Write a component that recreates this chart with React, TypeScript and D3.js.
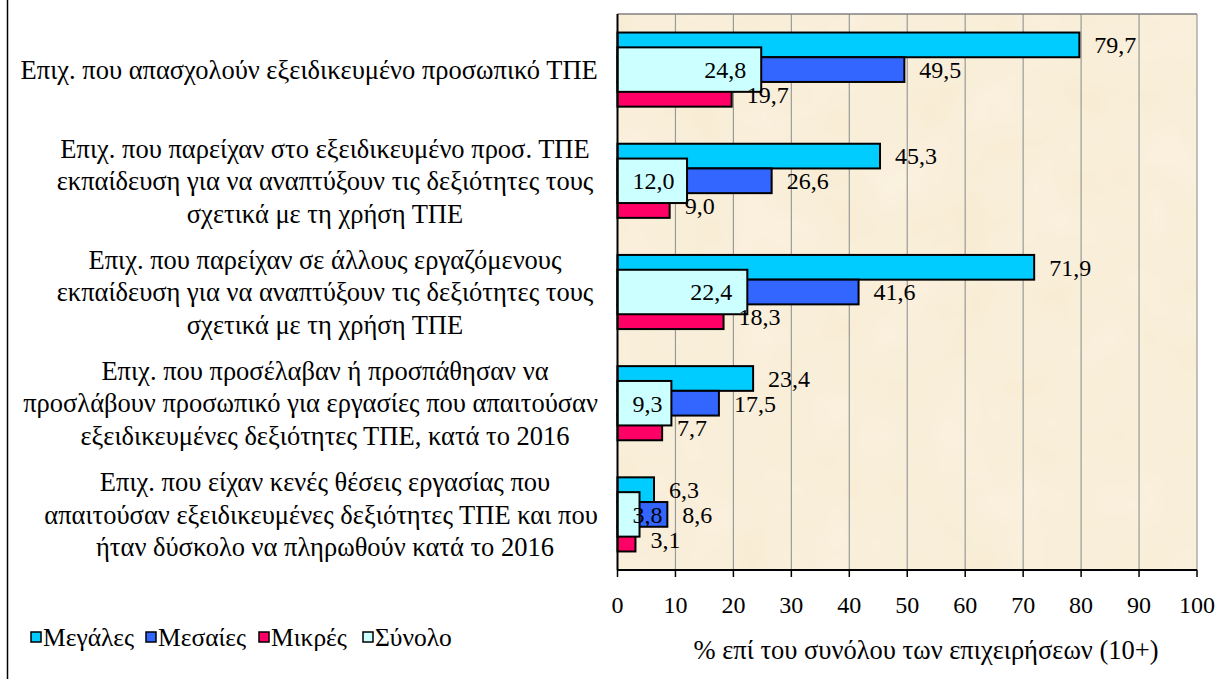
import React from "react";
import * as d3 from "d3";

const categories = ["c1", "c2", "c3", "c4", "c5"];
const categoryLines: string[][] = [
  ["Επιχ. που απασχολούν εξειδικευμένο προσωπικό ΤΠΕ"],
  ["Επιχ. που παρείχαν στο εξειδικευμένο προσ. ΤΠΕ", "εκπαίδευση για να αναπτύξουν τις δεξιότητες τους", "σχετικά με τη χρήση ΤΠΕ"],
  ["Επιχ. που παρείχαν σε άλλους εργαζόμενους", "εκπαίδευση για να αναπτύξουν τις δεξιότητες τους", "σχετικά με τη χρήση ΤΠΕ"],
  ["Επιχ. που προσέλαβαν ή προσπάθησαν να", "προσλάβουν προσωπικό για εργασίες που απαιτούσαν", "εξειδικευμένες δεξιότητες ΤΠΕ, κατά το 2016"],
  ["Επιχ. που είχαν κενές θέσεις εργασίας που", "απαιτούσαν εξειδικευμένες δεξιότητες ΤΠΕ και που", "ήταν δύσκολο να πληρωθούν κατά το 2016"],
];
const seriesNames = ["Μεγάλες", "Μεσαίες", "Μικρές", "Σύνολο"];
const megales = [79.7, 45.3, 71.9, 23.4, 6.3];
const mesaies = [49.5, 26.6, 41.6, 17.5, 8.6];
const mikres = [19.7, 9.0, 18.3, 7.7, 3.1];
const synolo = [24.8, 12.0, 22.4, 9.3, 3.8];
const xTicks = [0, 10, 20, 30, 40, 50, 60, 70, 80, 90, 100];
const xTitle = "% επί του συνόλου των επιχειρήσεων (10+)";

const colors: Record<string, string> = {
  "Μεγάλες": "#00CCFF",
  "Μεσαίες": "#3366FF",
  "Μικρές": "#FF0066",
  "Σύνολο": "#CCFFFF",
};

const TS = { fontFamily: '"Liberation Serif"' };

let ctx: CanvasRenderingContext2D | null = null;
function measure(t: string, size: number) {
  if (!ctx) {
    const c = document.createElement("canvas");
    ctx = c.getContext("2d");
  }
  if (!ctx) return t.length * size * 0.45;
  ctx.font = `${size}px "Liberation Serif"`;
  return ctx.measureText(t).width;
}

const fmt = (v: number) => v.toFixed(1).replace(".", ",");

export default function App() {
  const left = 617.5, right = 1197, top = 14, bottom = 570;
  const x = d3.scaleLinear().domain([0, 100]).range([left, right]);
  const y = d3.scaleBand().domain(categories).range([top, bottom]).paddingInner(1 / 3).paddingOuter(1 / 6);
  const primary = seriesNames.slice(0, 3);
  const sub = d3.scaleBand().domain(primary).range([0, y.bandwidth()]);
  const y2 = d3.scaleBand().domain(categories).range([top, bottom]).paddingInner(0.6).paddingOuter(0.3);
  const primData: Record<string, number[]> = { "Μεγάλες": megales, "Μεσαίες": mesaies, "Μικρές": mikres };

  const labelSize = 24;
  const catSize = 26.5;
  const lineH = 32.5;

  const legendItems = [
    { name: seriesNames[0], x: 31 },
    { name: seriesNames[1], x: 146 },
    { name: seriesNames[2], x: 259 },
    { name: seriesNames[3], x: 363 },
  ];

  return (
    <svg width={1220} height={679} style={{ position: "absolute", left: 0, top: 0, background: "#fff" }}>
      <defs>
        <filter id="paper" x="0" y="0" width="100%" height="100%">
          <feTurbulence type="fractalNoise" baseFrequency="0.015" numOctaves="3" seed="4" />
          <feColorMatrix type="matrix" values="0 0 0 0 1  0 0 0 0 1  0 0 0 0 1  0 0 0 0.35 0" />
        </filter>
      </defs>
      <line x1={7.5} x2={7.5} y1={0} y2={679} stroke="#000" strokeWidth={1.5} />
      <rect x={left} y={top} width={right - left} height={bottom - top} fill="#F8EBD2" />
      <rect x={left} y={top} width={right - left} height={bottom - top} filter="url(#paper)" opacity={0.9} />
      {xTicks.slice(1).map((t) => (
        <line key={t} x1={x(t)} x2={x(t)} y1={top} y2={bottom} stroke="#9A9A9A" strokeWidth={1.2} />
      ))}
      <line x1={left} x2={right} y1={top} y2={top} stroke="#808080" strokeWidth={1.5} />
      {categories.map((c, i) =>
        primary.map((s) => {
          const v = primData[s][i];
          return (
            <rect key={c + s} x={x(0)} y={(y(c) as number) + (sub(s) as number)} width={x(v) - x(0)} height={sub.bandwidth()}
              fill={colors[s]} stroke="#000" strokeWidth={2} />
          );
        })
      )}
      {categories.map((c, i) => (
        <rect key={c + "tot"} x={x(0)} y={y2(c) as number} width={x(synolo[i]) - x(0)} height={y2.bandwidth()}
          fill={colors["Σύνολο"]} stroke="#000" strokeWidth={2} />
      ))}
      <line x1={left} x2={left} y1={top} y2={bottom} stroke="#000" strokeWidth={2} />
      <line x1={left} x2={right} y1={bottom} y2={bottom} stroke="#000" strokeWidth={2} />
      {xTicks.map((t) => (
        <g key={t}>
          <line x1={x(t)} x2={x(t)} y1={bottom} y2={bottom + 7} stroke="#000" strokeWidth={1.5} />
          <text x={x(t)} y={bottom + 35} dy="0.35em" textAnchor="middle" fontSize={24} fill="#000" style={TS}>{t}</text>
        </g>
      ))}
      {categories.map((c, i) =>
        primary.map((s) => {
          const v = primData[s][i];
          const yc = (y(c) as number) + (sub(s) as number) + sub.bandwidth() / 2;
          return (
            <text key={c + s + "l"} x={x(v) + 15} y={yc} dy="0.35em" fontSize={labelSize} fill="#000" style={TS}>{fmt(v)}</text>
          );
        })
      )}
      {categories.map((c, i) => {
        const v = synolo[i];
        const t = fmt(v);
        const w = measure(t, labelSize);
        let end = x(v) - 15;
        if (end - w < x(0) + 15) end = x(0) + 15 + w;
        const yc = (y2(c) as number) + y2.bandwidth() / 2;
        return (
          <text key={c + "tl"} x={end} y={yc} dy="0.35em" textAnchor="end" fontSize={labelSize} fill="#000" style={TS}>{t}</text>
        );
      })}
      {categories.map((c, i) => {
        const lines = categoryLines[i];
        const yc = (y(c) as number) + y.bandwidth() / 2;
        const y0 = yc - ((lines.length - 1) * lineH) / 2;
        return lines.map((ln, j) => {
          const w = measure(ln, catSize);
          const cx = Math.min(325, 598 - w / 2);
          return (
            <text key={c + j} x={cx} y={y0 + j * lineH} dy="0.35em" textAnchor="middle" fontSize={catSize} fill="#000" style={TS}>{ln}</text>
          );
        });
      })}
      {legendItems.map((it) => (
        <g key={it.name}>
          <rect x={it.x} y={632} width={10} height={10} fill={colors[it.name]} stroke="#000" strokeWidth={1.5} />
          <text x={it.x + 12} y={637} dy="0.35em" fontSize={25.5} fill="#000" style={TS}>{it.name}</text>
        </g>
      ))}
      <text x={926} y={650} dy="0.35em" textAnchor="middle" fontSize={26.5} fill="#000" style={TS}>{xTitle}</text>
    </svg>
  );
}
